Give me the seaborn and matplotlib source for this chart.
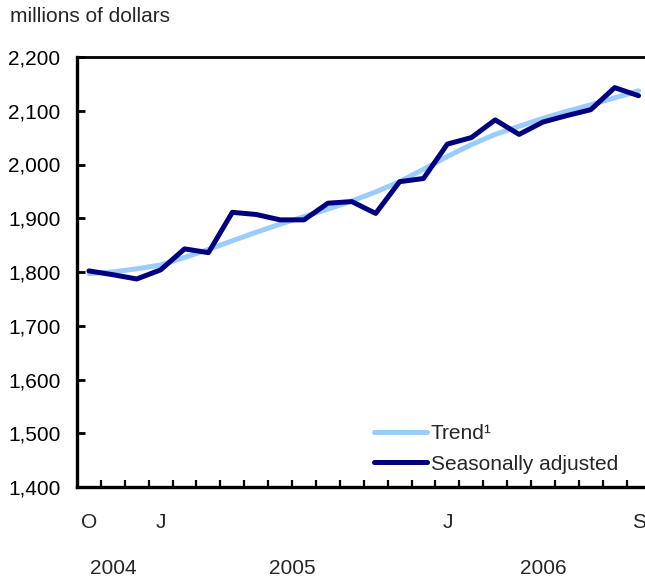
import matplotlib
matplotlib.use("Agg")
import matplotlib.pyplot as plt
import matplotlib.transforms as mtransforms
import seaborn as sns
import pandas as pd
import numpy as np

# ---- data ----
months = ["Oct 2004", "Nov 2004", "Dec 2004",
          "Jan 2005", "Feb 2005", "Mar 2005", "Apr 2005", "May 2005", "Jun 2005",
          "Jul 2005", "Aug 2005", "Sep 2005", "Oct 2005", "Nov 2005", "Dec 2005",
          "Jan 2006", "Feb 2006", "Mar 2006", "Apr 2006", "May 2006", "Jun 2006",
          "Jul 2006", "Aug 2006", "Sep 2006"]
seasonally_adjusted = [1802, 1795, 1787, 1804, 1843, 1836, 1911, 1907, 1897, 1897,
                       1928, 1931, 1909, 1968, 1974, 2038, 2050, 2083, 2056, 2079,
                       2091, 2102, 2143, 2128]
trend = [1797, 1800, 1806, 1813, 1827, 1842, 1858, 1874, 1889, 1903, 1917, 1932,
         1949, 1968, 1991, 2015, 2037, 2056, 2071, 2086, 2099, 2111, 2124, 2137]
month_labels = {0: "O", 3: "J", 15: "J", 23: "S"}
year_labels = ["2004", "2005", "2006"]
year_spans = [(0, 3), (3, 15), (15, 24)]
y_ticks = [1400, 1500, 1600, 1700, 1800, 1900, 2000, 2100, 2200]

df = pd.DataFrame({
    "idx": list(range(len(months))) * 2,
    "value": trend + seasonally_adjusted,
    "series": ["Trend\u00b9"] * len(months) + ["Seasonally adjusted"] * len(months),
})

sns.set_theme(style="white")
plt.rcParams["font.family"] = ["Liberation Sans", "DejaVu Sans"]
FS = 15

fig = plt.figure(figsize=(6.45, 5.77), dpi=100)
ax = fig.add_axes([77 / 645, 90 / 577, 1 - 77 / 645, 430 / 577])

palette = {"Trend\u00b9": "#99ccff", "Seasonally adjusted": "#000080"}
sns.lineplot(data=df, x="idx", y="value", hue="series", palette=palette,
             linewidth=3.6, ax=ax, legend=True)

ax.set_ylim(1400, 2200)
ax.set_xlim(-0.5, 23.27)
ax.set_yticks(y_ticks)
ax.set_yticklabels([f"{v:,}" for v in y_ticks], fontsize=FS)
ax.tick_params(axis="y", direction="in", length=6, width=2, pad=12, left=True,
               labelsize=FS, colors="black")

ax.set_xticks(list(month_labels.keys()))
ax.set_xticklabels(list(month_labels.values()), fontsize=FS)
ax.tick_params(axis="x", which="major", length=0, pad=18.5, labelsize=FS)
ax.set_xticks([i - 0.5 for i in range(1, 24)], minor=True)
ax.tick_params(axis="x", which="minor", direction="in", length=5, width=1.6,
               bottom=True, color="black")

trans = mtransforms.blended_transform_factory(ax.transData, ax.transAxes)
for lab, (a, b) in zip(year_labels, year_spans):
    ax.text((a + b - 1) / 2, -0.19, lab, transform=trans, ha="center",
            va="center", fontsize=FS)

ax.set_xlabel("")
ax.set_ylabel("")
for s in ["left", "bottom"]:
    ax.spines[s].set_linewidth(2.4)
    ax.spines[s].set_color("black")
ax.spines["top"].set_linewidth(2)
ax.spines["top"].set_color("black")
ax.spines["right"].set_visible(False)
ax.grid(False)

handles, labels = ax.get_legend_handles_labels()
leg = ax.legend(handles, labels, loc="lower left", bbox_to_anchor=(0.509, 0.012),
                frameon=False, fontsize=FS, handlelength=2.5, handletextpad=0.2,
                labelspacing=0.55, borderaxespad=0.0)

fig.text(10 / 645, 1 - 17 / 577, "millions of dollars", fontsize=FS,
         ha="left", va="center")

fig.savefig("out.png", dpi=100)
